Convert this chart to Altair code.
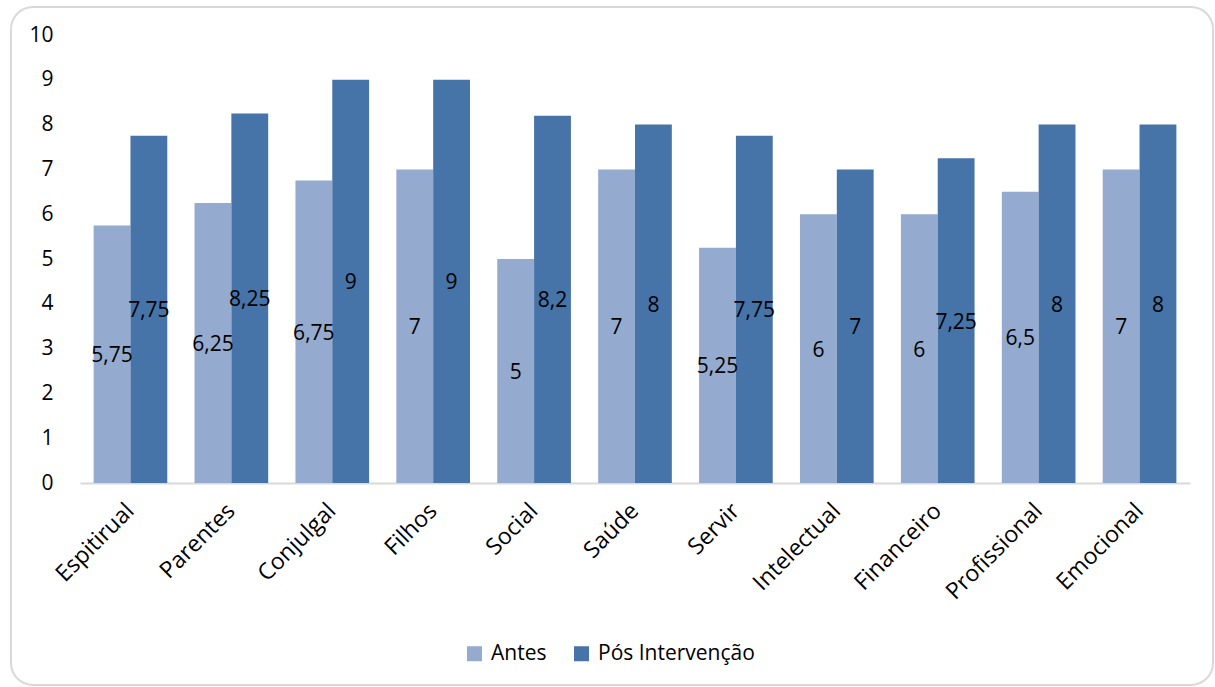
import altair as alt
import pandas as pd

categories = ["Espitirual", "Parentes", "Conjulgal", "Filhos", "Social", "Saúde",
              "Servir", "Intelectual", "Financeiro", "Profissional", "Emocional"]
antes = [5.75, 6.25, 6.75, 7, 5, 7, 5.25, 6, 6, 6.5, 7]
pos = [7.75, 8.25, 9, 9, 8.2, 8, 7.75, 7, 7.25, 8, 8]
series = ["Antes", "Pós Intervenção"]
colors = ["#94AACF", "#4673A8"]

rows = []
for c, a, p in zip(categories, antes, pos):
    rows.append({"cat": c, "serie": series[0], "v": a})
    rows.append({"cat": c, "serie": series[1], "v": p})
df = pd.DataFrame(rows)

FONT = "Open Sans"

xenc = alt.X("cat:N", sort=categories, title=None,
             scale=alt.Scale(paddingInner=0.27, paddingOuter=0.135),
             axis=alt.Axis(labelAngle=-45, labelAlign="right", labelBaseline="middle",
                           labelFontSize=23, labelColor="#000000", labelFont=FONT,
                           ticks=False, domainColor="#D9D9D9", domainWidth=2,
                           labelPadding=24))
xoff = alt.XOffset("serie:N", sort=series)

base = alt.Chart(df)

bars = base.mark_bar().encode(
    x=xenc,
    xOffset=xoff,
    y=alt.Y("v:Q", title=None, scale=alt.Scale(domain=[0, 10]),
            axis=alt.Axis(values=list(range(0, 11)), grid=False, domain=False, ticks=False,
                          labelFontSize=21, labelColor="#000000", labelFont=FONT,
                          labelPadding=27)),
    color=alt.Color("serie:N", sort=series, title=None,
                    scale=alt.Scale(domain=series, range=colors),
                    legend=alt.Legend(orient="none", legendX=384, legendY=608,
                                      direction="horizontal", symbolType="square",
                                      symbolSize=225, symbolStrokeWidth=0,
                                      labelFontSize=21, labelFont=FONT, labelColor="#000000",
                                      columnPadding=24, labelOffset=6)),
)

labels = base.transform_calculate(
    half="datum.v / 2",
    lab="replace(toString(datum.v), '.', ',')"
).mark_text(fontSize=21, font=FONT, color="#000000", dy=2).encode(
    x=alt.X("cat:N", sort=categories),
    xOffset=xoff,
    y=alt.Y("half:Q"),
    text="lab:N",
)

frame = alt.Chart(pd.DataFrame({"a": [0]})).mark_rect(
    fill=None, stroke="#D9D9D9", strokeWidth=2, cornerRadius=22
).encode(x=alt.value(-69), x2=alt.value(1133), y=alt.value(-28), y2=alt.value(650))

chart = alt.layer(frame, bars, labels).properties(
    width=1110, height=448,
    autosize=alt.AutoSizeParams(type="none"),
    padding={"left": 80, "top": 35, "right": 25, "bottom": 204},
    view=alt.ViewBackground(stroke="transparent", strokeWidth=0),
).configure_view(stroke="transparent", strokeWidth=0).configure(background="white")

chart.save("out.html", embed_options={"renderer": "svg", "actions": False})
